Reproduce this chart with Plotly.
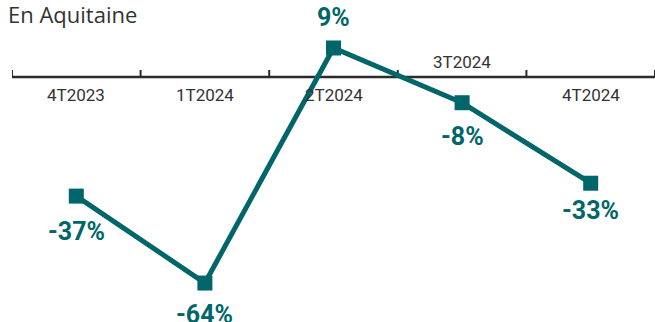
import plotly.graph_objects as go

# quarters and variation (%) in Aquitaine
quarters = ["4T2023", "1T2024", "2T2024", "3T2024", "4T2024"]
variation = [-37, -64, 9, -8, -33]
label_above = [False, False, False, True, False]  # tick label placed above axis

TEAL = "#006669"
DARK = "#2b2b2b"
value_shift = [-35, -31, 30, -34, -27]  # vertical offset of value labels, px

fig = go.Figure()
fig.add_trace(go.Scatter(
    x=list(range(len(quarters))), y=variation,
    mode="lines+markers",
    line=dict(color=TEAL, width=5),
    marker=dict(symbol="square", size=15, color=TEAL),
    hoverinfo="skip", showlegend=False,
))

shapes = [dict(type="line", xref="x", yref="y", x0=-0.5, x1=len(quarters) - 0.5,
               y0=0, y1=0, line=dict(color=DARK, width=2.5), layer="below")]
for b in range(len(quarters) + 1):
    shapes.append(dict(type="line", xref="x", yref="y", ysizemode="pixel", yanchor=0,
                       x0=b - 0.5, x1=b - 0.5, y0=0, y1=7,
                       line=dict(color=DARK, width=2), layer="below"))

annotations = []
for i, (q, up) in enumerate(zip(quarters, label_above)):
    annotations.append(dict(x=i, y=0, xref="x", yref="y", text=q, showarrow=False,
                            yshift=15 if up else -18,
                            font=dict(family="Roboto", size=17, color="#333333")))
for i, v in enumerate(variation):
    annotations.append(dict(x=i, y=v, xref="x", yref="y", text=f"<b>{v}%</b>",
                            showarrow=False, yshift=value_shift[i],
                            font=dict(family="Roboto", size=25, color=TEAL)))
annotations.append(dict(x=0, y=1, xref="paper", yref="paper", xanchor="left", yanchor="top",
                        xshift=-6, yshift=3, text="En Aquitaine", showarrow=False,
                        font=dict(family="Open Sans", size=22, color="#333333")))

fig.update_layout(
    width=655, height=322,
    margin=dict(l=12, r=0, t=0, b=0),
    paper_bgcolor="white", plot_bgcolor="white",
    xaxis=dict(range=[-0.5, 4.5], visible=False, fixedrange=True),
    yaxis=dict(range=[-76.1, 23.9], visible=False, fixedrange=True),
    shapes=shapes, annotations=annotations,
)
fig.write_html("out.html", config={"displayModeBar": False},
               post_script="document.body.style.margin='0';")
